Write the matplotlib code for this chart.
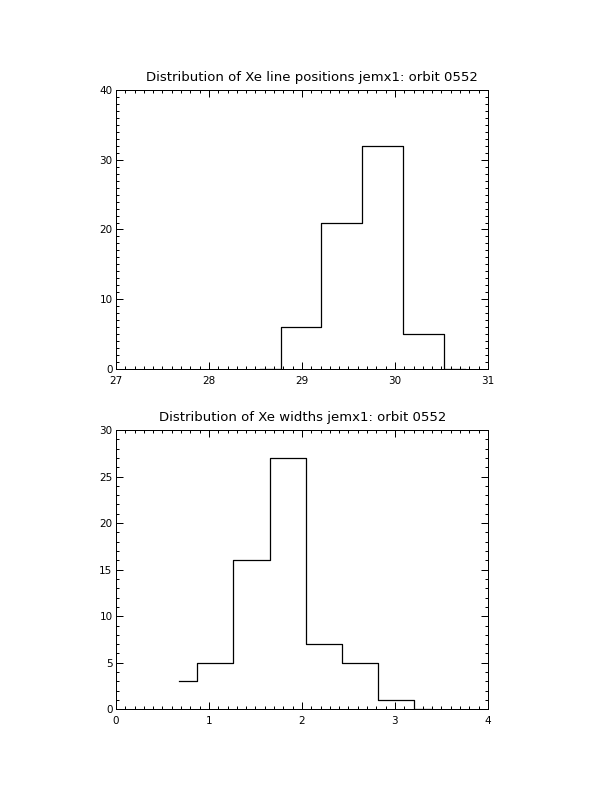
"""
Xe line position / width histograms for jemx1, orbit 0552 (IDL-style look).
"""
import matplotlib
matplotlib.use("Agg")
import matplotlib.pyplot as plt
from matplotlib.ticker import MultipleLocator

# bin centres and counts (IDL psym=10 style histograms)
pos_centers = [28.55, 28.99, 29.43, 29.87, 30.31, 30.75]
pos_counts = [0, 6, 21, 32, 5, 0]

width_centers = [0.681, 1.068, 1.457, 1.850, 2.240, 2.627, 3.014, 3.401]
width_counts = [3, 5, 16, 27, 7, 5, 1, 0]

titles = ["Distribution of Xe line positions jemx1: orbit 0552",
          "Distribution of Xe widths jemx1: orbit 0552"]


def idl_axes(ax, xlim, ylim, xmajor, ymajor, xminor, yminor):
    ax.set_xlim(*xlim)
    ax.set_ylim(*ylim)
    ax.xaxis.set_major_locator(MultipleLocator(xmajor))
    ax.yaxis.set_major_locator(MultipleLocator(ymajor))
    ax.xaxis.set_minor_locator(MultipleLocator(xminor))
    ax.yaxis.set_minor_locator(MultipleLocator(yminor))
    ax.tick_params(which="both", direction="in", top=True, right=True,
                   width=0.72, labelsize=7.5, colors="black")
    ax.tick_params(which="major", length=5)
    ax.tick_params(which="minor", length=2.5)
    ax.tick_params(axis="x", pad=5)
    ax.tick_params(axis="y", pad=2.5)
    for sp in ax.spines.values():
        sp.set_linewidth(0.72)


fig = plt.figure(figsize=(6.12, 7.92), dpi=100)

ax1 = fig.add_axes([0.1895, 0.5341, 0.6078, 0.3523])
ax1.step(pos_centers, pos_counts, where="mid", color="black", lw=0.9)
idl_axes(ax1, (27, 31), (0, 40), 1, 10, 0.1, 1)
fig.text(312 / 612, 1 - 78 / 792, titles[0], ha="center", va="center",
         fontsize=9.5)

ax2 = fig.add_axes([0.1895, 0.1044, 0.6078, 0.3527])
ax2.step(width_centers, width_counts, where="mid", color="black", lw=0.9)
idl_axes(ax2, (0, 4), (0, 30), 1, 5, 0.1, 1)
fig.text(302.5 / 612, 1 - 417 / 792, titles[1], ha="center", va="center",
         fontsize=9.5)

fig.savefig("out.png", dpi=100)
